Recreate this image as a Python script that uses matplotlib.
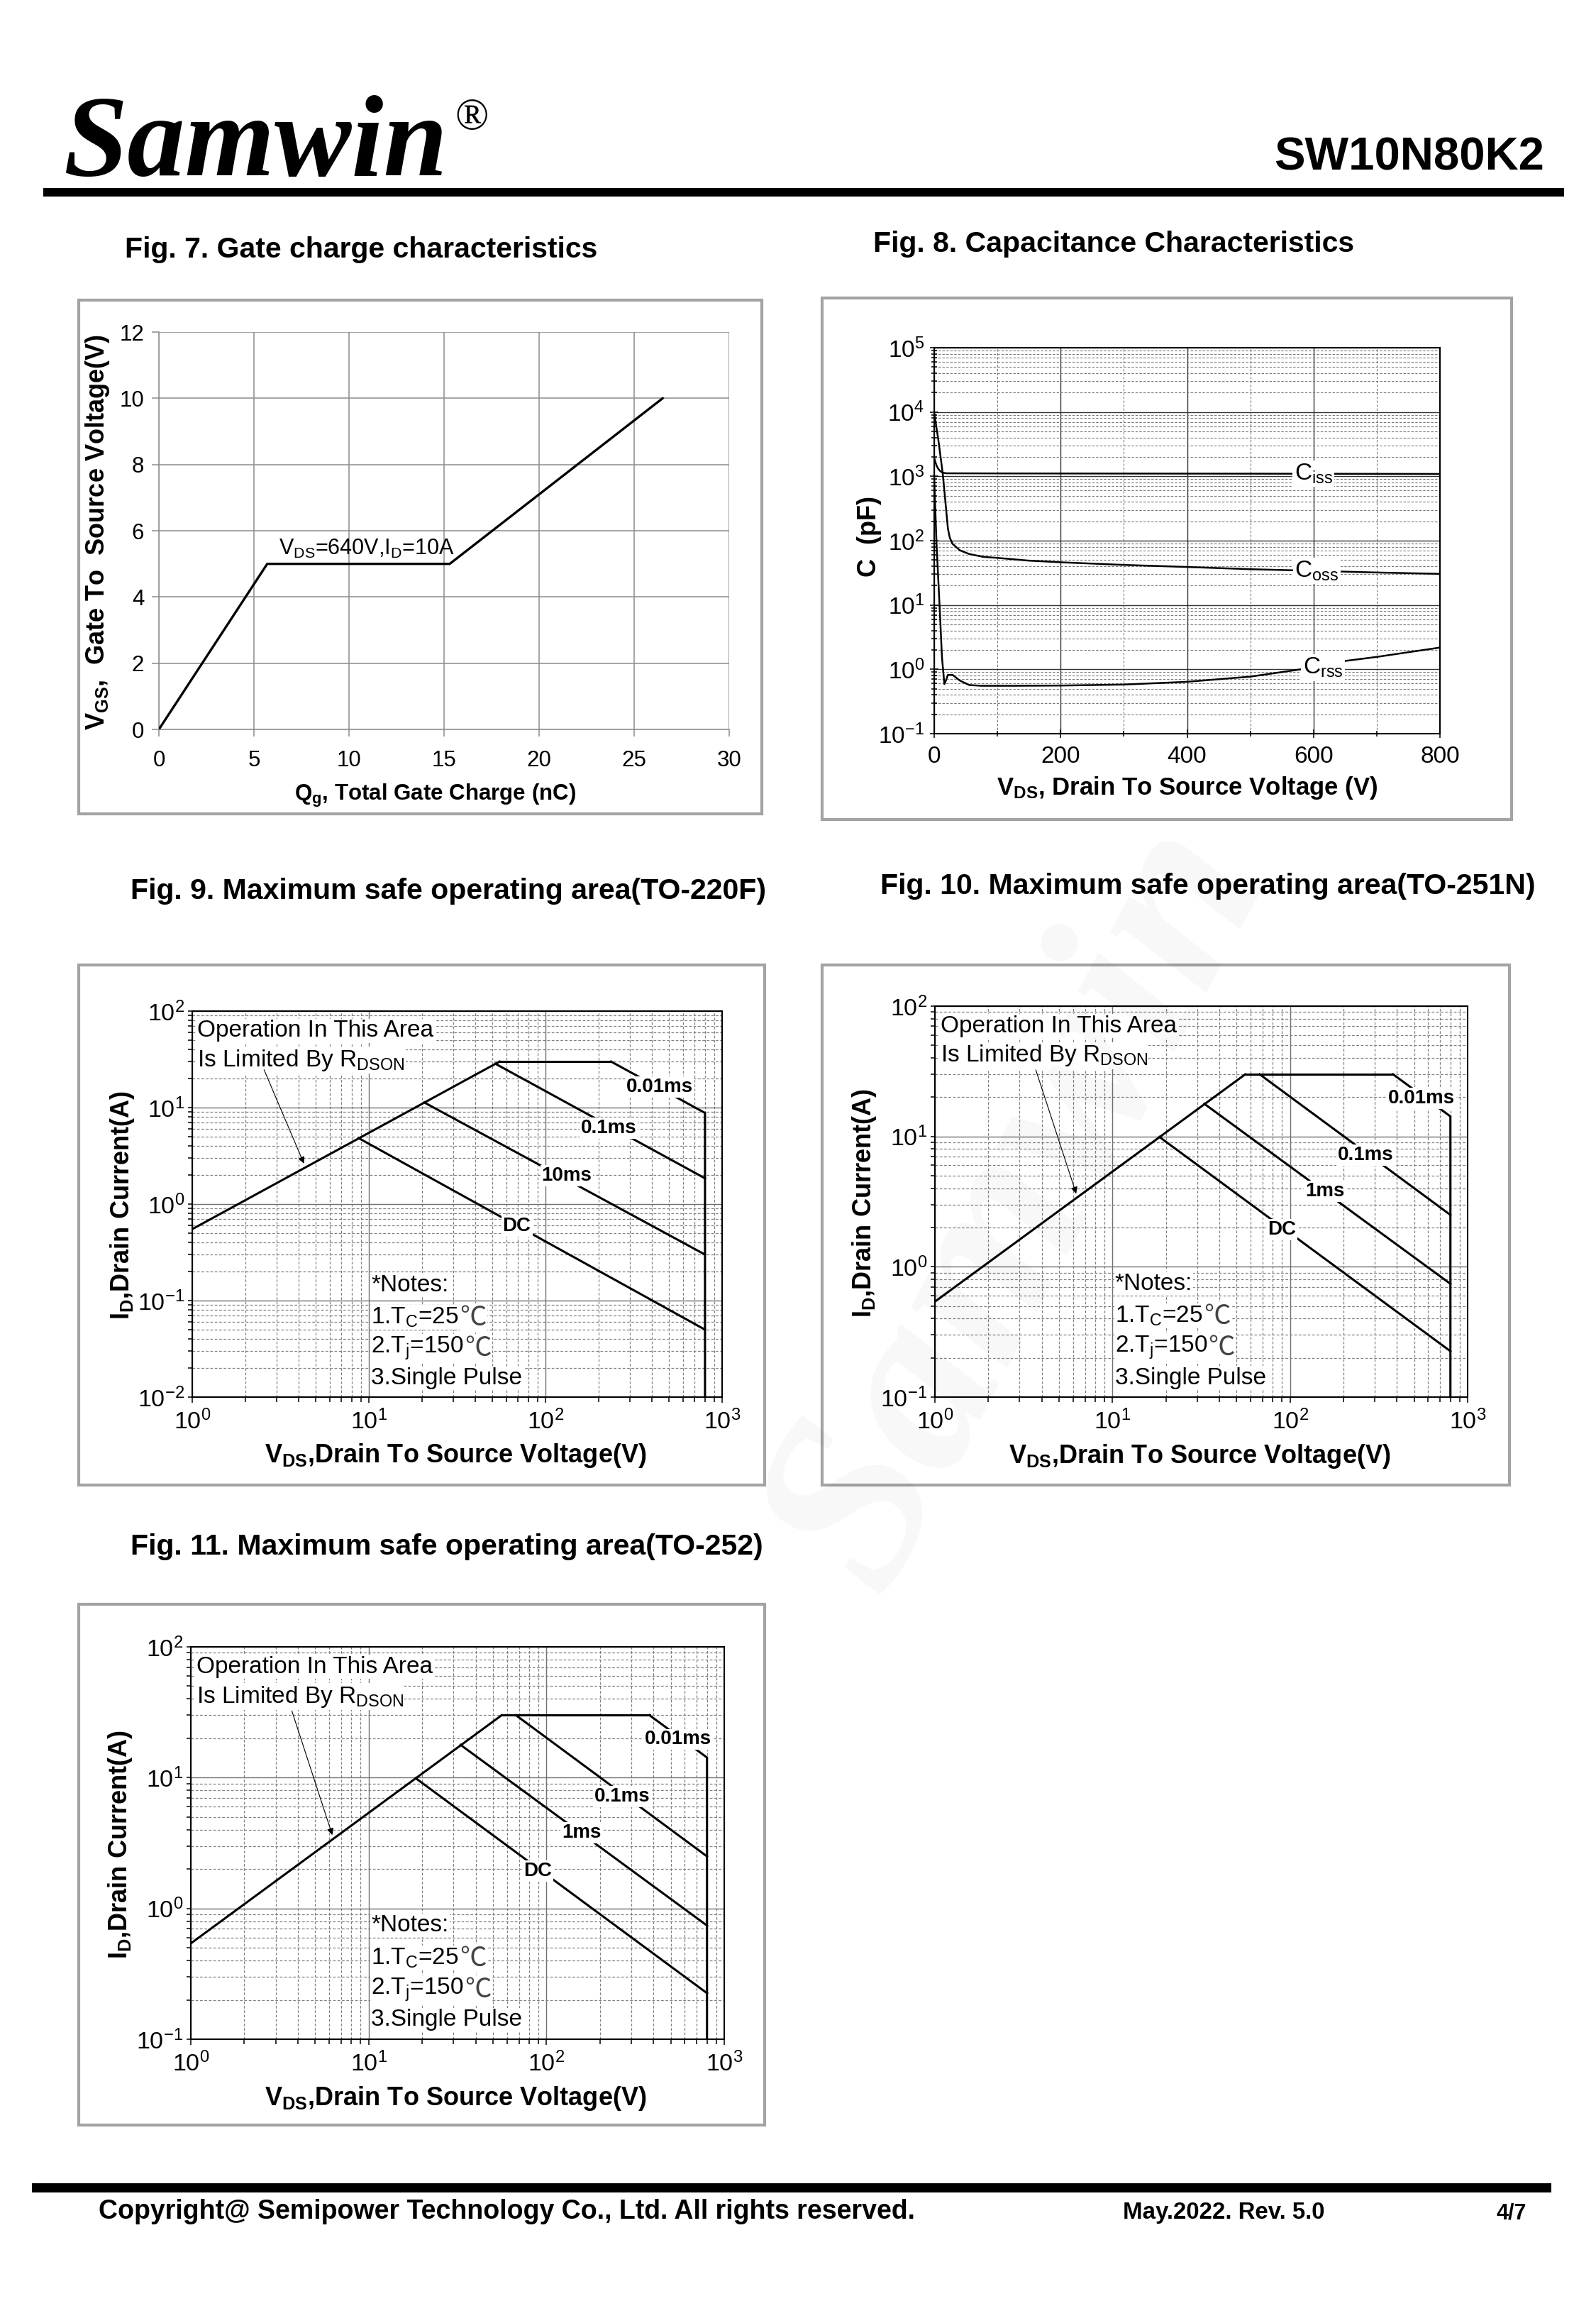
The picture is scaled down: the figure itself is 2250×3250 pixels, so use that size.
import numpy as np
import matplotlib.pyplot as plt
from matplotlib.patches import Rectangle
from matplotlib.ticker import LogLocator, MultipleLocator, NullFormatter

plt.rcParams['font.family'] = ['Liberation Sans', 'Noto Sans CJK SC', 'DejaVu Sans']
plt.rcParams['mathtext.fontset'] = 'custom'
plt.rcParams['mathtext.rm'] = 'Liberation Sans'
plt.rcParams['mathtext.it'] = 'Liberation Sans:italic'
plt.rcParams['mathtext.bf'] = 'Liberation Sans:bold'
plt.rcParams['mathtext.default'] = 'regular'
plt.rcParams['axes.unicode_minus'] = False

# ---------------- data ----------------
# Fig. 7 gate charge
qg_nc = [0, 5.7, 15.3, 26.5]
vgs_v = [0, 5, 5, 10]

# Fig. 8 capacitance (pF) vs VDS (V)
ciss_vds = [0, 2, 4, 6, 9, 13.5, 20, 100, 300, 500, 800]
ciss_pf = [1940, 1650, 1450, 1330, 1220, 1135, 1115, 1110, 1105, 1100, 1090]
coss_vds = [0, 6.7, 13.5, 18, 21.7, 24.7, 29.2, 40.4, 55.4, 77.8, 100, 149, 203,
            300, 400, 500, 600, 700, 800]
coss_pf = [9800, 3600, 1115, 377, 154, 111, 89, 71, 62, 56, 54, 49, 46,
           42, 39, 36, 34, 32, 30.5]
crss_vds = [0, 3.7, 8.6, 12.3, 16.1, 18, 21.7, 29.2, 40.4, 55.4, 74, 130, 203,
            300, 400, 500, 580, 650, 700, 800]
crss_pf = [930, 89, 9.3, 1.54, 0.59, 0.65, 0.82, 0.82, 0.67, 0.57, 0.555, 0.555, 0.56,
           0.58, 0.64, 0.77, 1.0, 1.35, 1.56, 2.18]

# Fig. 9 SOA TO-220F  (VDS in V, ID in A)
f9_rdson_v, f9_rdson_a = [1, 55], [0.55, 30]
f9_top_v, f9_top_a = [55, 235], [30, 30]
f9_p001_v, f9_p001_a = [235, 800, 800], [30, 8.8, 0.01]
f9_p01_v, f9_p01_a = [52, 800], [28.5, 1.85]
f9_p10_v, f9_p10_a = [20.6, 800], [11.3, 0.30]
f9_dc_v, f9_dc_a = [8.8, 800], [4.8, 0.05]
f9_labels = ['0.01ms', '0.1ms', '10ms', 'DC']
f9_label_v = [442, 228, 132, 68.8]
f9_label_a = [16.3, 6.1, 1.96, 0.59]

# Fig. 10 SOA TO-251N and Fig. 11 SOA TO-252 (same curves)
f10_rdson_v, f10_rdson_a = [1, 56], [0.54, 30]
f10_top_v, f10_top_a = [56, 380], [30, 30]
f10_p001_v, f10_p001_a = [380, 800, 800], [30, 14.25, 0.1]
f10_p01_v, f10_p01_a = [67.4, 800], [30, 2.5]
f10_p1_v, f10_p1_a = [32.9, 800], [17.8, 0.74]
f10_dc_v, f10_dc_a = [18.4, 800], [9.9, 0.225]
f10_labels = ['0.01ms', '0.1ms', '1ms', 'DC']
f10_label_v = [551, 266, 157, 89.7]
f10_label_a = [19.6, 7.2, 3.78, 1.93]

notes = ['*Notes:', r'1.T$_{\mathrm{C}}$=25', r'2.T$_{\mathrm{j}}$=150', '3.Single Pulse']
notes_unit = ['', '℃', '℃', '']

# ---------------- page ----------------
W, H = 2250, 3250
fig = plt.figure(figsize=(W / 100, H / 100), dpi=100)


def rect(l, t, r, b):
    return [l / W, 1 - b / H, (r - l) / W, (b - t) / H]


def add_box(l, t, r, b):
    fig.add_artist(Rectangle((l / W, 1 - b / H), (r - l) / W, (b - t) / H,
                             transform=fig.transFigure, fill=False, ec='#a3a3a3', lw=3))


def bar(l, t, r, b):
    fig.add_artist(Rectangle((l / W, 1 - b / H), (r - l) / W, (b - t) / H,
                             transform=fig.transFigure, fc='black', ec='none'))


def ftext(x, y, s, **kw):
    return fig.text(x / W, 1 - y / H, s, **kw)


# header
ftext(89, 247, 'Samwin', fontsize=117, family='Liberation Serif', weight='bold',
      style='italic', va='baseline')
ftext(641, 182, '®', fontsize=45, family='Liberation Serif', va='baseline')
ftext(2177, 240, 'SW10N80K2', fontsize=47, weight='bold', ha='right', va='baseline')
bar(61, 265, 2205, 277)

# footer
bar(45, 3077, 2187, 3090)
ftext(139, 3127, 'Copyright@ Semipower Technology Co., Ltd. All rights reserved.',
      fontsize=27, weight='bold', va='baseline')
ftext(1583, 3127, 'May.2022. Rev. 5.0', fontsize=23.8, weight='bold', va='baseline')
ftext(2109, 3127, '4/7', fontsize=22, weight='bold', va='baseline')

# titles
ftext(176, 352, 'Fig. 7. Gate charge characteristics', fontsize=29.5, weight='bold', va='center')
ftext(1231, 344, 'Fig. 8. Capacitance Characteristics', fontsize=29.5, weight='bold', va='center')
ftext(184, 1256, 'Fig. 9. Maximum safe operating area(TO-220F)', fontsize=29.5, weight='bold', va='center')
ftext(1241, 1249, 'Fig. 10. Maximum safe operating area(TO-251N)', fontsize=29.5, weight='bold', va='center')
ftext(184, 2180, 'Fig. 11. Maximum safe operating area(TO-252)', fontsize=29.5, weight='bold', va='center')

add_box(111, 423, 1074, 1147)
add_box(1159, 420, 2131, 1155)
add_box(111, 1360, 1078, 2093)
add_box(1159, 1360, 2128, 2093)
add_box(111, 2261, 1078, 2995)

# ---------------- Fig. 7 ----------------
ax7 = fig.add_axes(rect(224, 468, 1028, 1028))
ax7.plot(qg_nc, vgs_v, color='black', lw=2.4, solid_joinstyle='miter', zorder=3)
ax7.set_xlim(0, 30)
ax7.set_ylim(0, 12)
ax7.set_xticks(range(0, 31, 5))
ax7.set_yticks(range(0, 13, 2))
ax7.grid(True, color='#8c8c8c', lw=1.1)
ax7.set_axisbelow(True)
for s in ['top', 'right']:
    ax7.spines[s].set_visible(False)
for s in ['left', 'bottom']:
    ax7.spines[s].set_color('#8c8c8c')
    ax7.spines[s].set_linewidth(1.1)
ax7.tick_params(color='#8c8c8c', labelcolor='black', labelsize=22.5, length=7, width=1.1)
ax7.tick_params(axis='x', pad=14)
ax7.tick_params(axis='y', pad=8)
ax7.text(6.3, 5.12, r'V$_{\mathrm{DS}}$=640V,I$_{\mathrm{D}}$=10A', fontsize=22, va='bottom')
ax7.text(0.484, -0.166, r'Q$_{\mathbf{g}}$, Total Gate Charge (nC)', transform=ax7.transAxes,
         fontsize=22.5, weight='bold', ha='center', va='center')
ax7.text(-0.108, 0.496, r'V$_{\mathbf{GS}}$,  Gate To  Source Voltage(V)', transform=ax7.transAxes,
         fontsize=26, weight='bold', ha='center', va='center', rotation=90)

# ---------------- Fig. 8 ----------------
ax8 = fig.add_axes(rect(1317, 490, 2030, 1034))
for v, c in [(ciss_vds, ciss_pf), (coss_vds, coss_pf), (crss_vds, crss_pf)]:
    ax8.plot(v, c, color='black', lw=1.8, zorder=3)
ax8.set_yscale('log')
ax8.set_xlim(0, 800)
ax8.set_ylim(0.1, 1e5)
ax8.xaxis.set_major_locator(MultipleLocator(200))
ax8.xaxis.set_minor_locator(MultipleLocator(100))
ax8.set_yticks([0.1, 1, 10, 100, 1e3, 1e4, 1e5])
ax8.yaxis.set_minor_locator(LogLocator(base=10, subs=np.arange(2, 10), numticks=20))
ax8.yaxis.set_minor_formatter(NullFormatter())
ax8.grid(True, which='major', color='#333333', lw=1.0)
ax8.grid(True, which='minor', color='#777777', lw=0.8, ls=(0, (3, 2)))
ax8.set_axisbelow(True)
for s in ax8.spines.values():
    s.set_linewidth(1.5)
ax8.tick_params(which='both', direction='inout', length=8, width=1.1, labelsize=24, pad=6)
ax8.tick_params(which='minor', length=6)
ax8.tick_params(axis='x', pad=8)
cap_box = dict(fc='white', ec='none', pad=2)
ax8.text(600, 1100, r'C$_{\mathrm{iss}}$', fontsize=24, ha='center', va='center', bbox=cap_box, zorder=4)
ax8.text(605, 34, r'C$_{\mathrm{oss}}$', fontsize=24, ha='center', va='center', bbox=cap_box, zorder=4)
ax8.text(615, 1.06, r'C$_{\mathrm{rss}}$', fontsize=24, ha='center', va='center', bbox=cap_box, zorder=4)
ax8.text(0.5, -0.14, r'V$_{\mathbf{DS}}$, Drain To Source Voltage (V)', transform=ax8.transAxes,
         fontsize=25, weight='bold', ha='center', va='center')
ax8.text(-0.128, 0.511, 'C  (pF)', transform=ax8.transAxes,
         fontsize=26, weight='bold', ha='center', va='center', rotation=90)


# ---------------- SOA plots ----------------
def soa(ax, curves, ylim, labels, lab_v, lab_a, arrow_from, arrow_to):
    for v, a in curves:
        ax.plot(v, a, color='black', lw=2.2, solid_joinstyle='miter', zorder=3)
    ax.set_xscale('log')
    ax.set_yscale('log')
    ax.set_xlim(1, 1000)
    ax.set_ylim(*ylim)
    ax.xaxis.set_minor_locator(LogLocator(base=10, subs=np.arange(2, 10), numticks=20))
    ax.yaxis.set_minor_locator(LogLocator(base=10, subs=np.arange(2, 10), numticks=20))
    ax.xaxis.set_minor_formatter(NullFormatter())
    ax.yaxis.set_minor_formatter(NullFormatter())
    ax.grid(True, which='major', color='#707070', lw=1.0)
    ax.grid(True, which='minor', color='#808080', lw=0.9, ls=(0, (3, 2)))
    ax.set_axisbelow(True)
    for s in ax.spines.values():
        s.set_linewidth(1.5)
    ax.tick_params(which='both', length=6, width=1.1, labelsize=24.5)
    ax.tick_params(which='minor', length=5)
    ax.tick_params(axis='x', which='both', pad=7)
    ax.tick_params(axis='y', which='both', length=4, pad=4)
    for s, x, y in zip(labels, lab_v, lab_a):
        ax.text(x, y, s, fontsize=20, weight='bold', ha='center', va='center',
                bbox=dict(fc='white', ec='none', pad=1.5), zorder=4)
    wbox = dict(fc='white', ec='none', pad=1)
    ax.text(0.01, 0.949, 'Operation In This Area', transform=ax.transAxes, fontsize=24,
            va='center', bbox=wbox, zorder=4)
    ax.text(0.01, 0.873, r'Is Limited By R$_{\mathrm{DSON}}$', transform=ax.transAxes, fontsize=24,
            va='center', bbox=wbox, zorder=4)
    for s, u, y in zip(notes, notes_unit, [0.29, 0.207, 0.127, 0.049]):
        t = ax.text(0.338, y, s, transform=ax.transAxes, fontsize=24, va='center',
                    bbox=wbox, zorder=4)
        if u:
            ax.annotate(u, xy=(1, 0.5), xycoords=t, xytext=(1, -0.5), textcoords='offset points',
                        ha='left', va='center', fontsize=27, family='Noto Sans CJK SC',
                        color='#444444', zorder=4,
                        bbox=dict(fc='white', ec='none', pad=0.5))
    ax.annotate('', xy=arrow_to, xytext=arrow_from,
                arrowprops=dict(arrowstyle='-|>', color='black', lw=0.8, mutation_scale=14,
                                shrinkA=0, shrinkB=0), zorder=4)
    ax.text(0.497, -0.151, r'V$_{\mathbf{DS}}$,Drain To Source Voltage(V)', transform=ax.transAxes,
            fontsize=26, weight='bold', ha='center', va='center')
    ax.text(-0.132, 0.497, r'I$_{\mathbf{D}}$,Drain Current(A)', transform=ax.transAxes,
            fontsize=26, weight='bold', ha='center', va='center', rotation=90)


ax9 = fig.add_axes(rect(271, 1425, 1018, 1969))
soa(ax9, [(f9_rdson_v, f9_rdson_a), (f9_top_v, f9_top_a), (f9_p001_v, f9_p001_a),
          (f9_p01_v, f9_p01_a), (f9_p10_v, f9_p10_a), (f9_dc_v, f9_dc_a)],
    (0.01, 100), f9_labels, f9_label_v, f9_label_a, (2.55, 24.7), (4.29, 2.63))

f10_curves = [(f10_rdson_v, f10_rdson_a), (f10_top_v, f10_top_a), (f10_p001_v, f10_p001_a),
              (f10_p01_v, f10_p01_a), (f10_p1_v, f10_p1_a), (f10_dc_v, f10_dc_a)]
ax10 = fig.add_axes(rect(1318, 1418, 2069, 1969))
soa(ax10, f10_curves, (0.1, 100), f10_labels, f10_label_v, f10_label_a, (3.7, 32.4), (6.25, 3.64))

ax11 = fig.add_axes(rect(269, 2321, 1021, 2874))
soa(ax11, f10_curves, (0.1, 100), f10_labels, f10_label_v, f10_label_a, (3.7, 32.4), (6.25, 3.64))

# faint watermark
ftext(1440, 1700, 'Samwin', fontsize=250, family='Liberation Serif', weight='bold', style='italic',
      rotation=62, ha='center', va='center', color='black', alpha=0.03, zorder=10)

fig.savefig('out.png', dpi=100)
